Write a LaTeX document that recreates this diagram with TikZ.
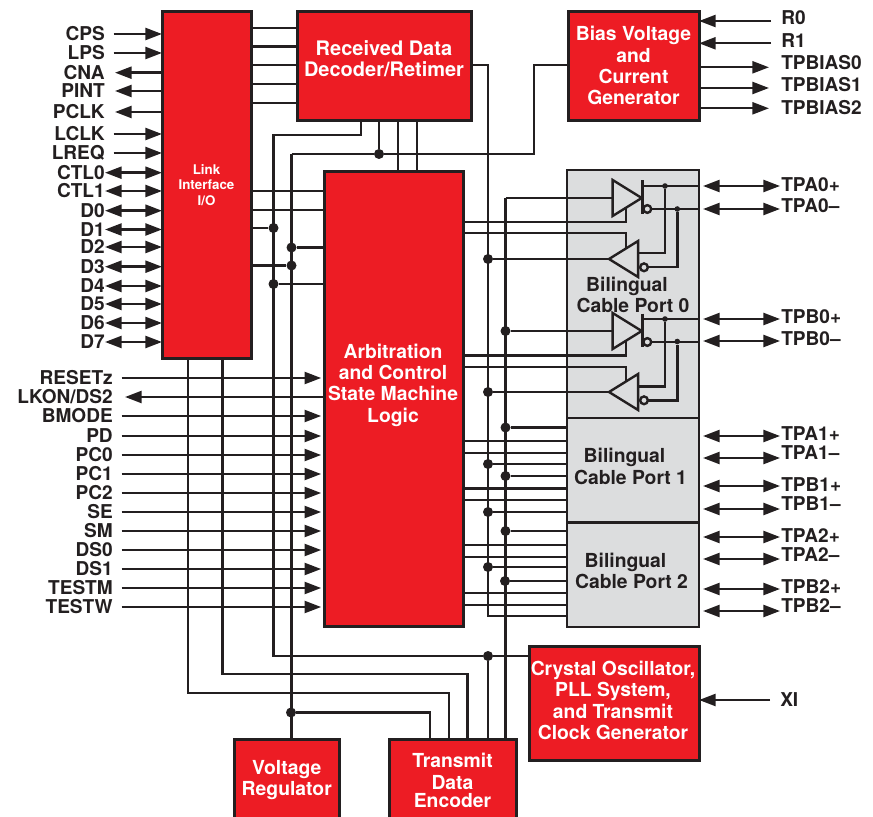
\documentclass[tikz,border=0pt]{standalone}
\usepackage{fontspec}
\usepackage{xcolor}
\usepackage{tikz}
\usetikzlibrary{arrows.meta, shapes.geometric}
\setmainfont{TeX Gyre Heros}
\definecolor{chipred}{HTML}{ED1C24}
\definecolor{chipink}{HTML}{231F20}
\definecolor{chipgray}{HTML}{DCDDDE}
\tikzset{
    block/.style={draw=chipink, fill=chipred, line width=2.25pt, inner sep=0pt, outer sep=0pt, text=white, align=center, font=\fontsize{14.5}{16}\selectfont\bfseries},
    blocktxt/.style={inner sep=0pt, text=white, align=center, font=\fontsize{14.5}{16}\selectfont\bfseries},
    portbox/.style={draw=chipink, fill=chipgray, line width=2pt, inner sep=0pt, outer sep=0pt},
    porttxt/.style={inner sep=0pt, text=chipink, align=center, font=\fontsize{14.5}{16}\selectfont\bfseries},
    pinleft/.style={anchor=east, inner sep=0pt, text=chipink, text height=10pt, text depth=0pt, font=\fontsize{14.3}{16}\selectfont\bfseries},
    pinright/.style={anchor=west, inner sep=0pt, text=chipink, text height=10pt, text depth=0pt, font=\fontsize{14.3}{16}\selectfont\bfseries},
    wire/.style={draw=chipink, line width=1.8pt},
    inwire/.style={wire, -{Triangle[length=12.5pt, width=9pt]}, shorten <=6.5pt},
    outwire/.style={wire, -{Triangle[length=12.5pt, width=9pt]}, shorten >=7.5pt},
    biwire/.style={wire, {Triangle[length=12.5pt, width=9pt]}-{Triangle[length=12.5pt, width=9pt]}},
    dot/.style={circle, fill=chipink, inner sep=0pt, minimum size=7.5pt},
    tinydot/.style={circle, fill=chipink, inner sep=0pt, minimum size=4.2pt},
    bubble/.style={circle, draw=chipink, fill=chipgray, line width=1.8pt, inner sep=0pt, outer sep=0pt, minimum size=5.8pt},
    bufright/.style={isosceles triangle, isosceles triangle stretches, shape border rotate=0, draw=chipink, fill=chipgray, line width=1.8pt, inner sep=0pt, outer sep=0pt, minimum width=27pt, minimum height=21.8pt, anchor=apex},
    bufleft/.style={bufright, shape border rotate=180}
}
\begin{document}
\begin{tikzpicture}[x=0.75pt, y=-0.75pt]
    \useasboundingbox (0,0) rectangle (873,816);

    % blocks
    \node[block, minimum width=66.75pt, minimum height=260.25pt, font=\fontsize{10}{11.6}\selectfont\bfseries] (link) at (206.5,185) {Link\\Interface\\I/O};
    \node[block, minimum width=130.5pt, minimum height=81.4pt] (decoder) at (384,65.75) {};
    \node[block, minimum width=98.25pt, minimum height=81.4pt] (bias) at (633.5,65.75) {Bias Voltage\\and\\Current\\Generator};
    \node[block, minimum width=104.6pt, minimum height=341.6pt] (arb) at (394.25,398.75) {};
    \node[block, minimum width=127.5pt, minimum height=85.5pt] (crystal) at (614,703) {};
    \node[block, minimum width=78.4pt, minimum height=61.5pt] (vreg) at (286.75,780) {Voltage\\Regulator};
    \node[block, minimum width=95.25pt, minimum height=61.5pt] (tx) at (452.5,780) {Transmit\\[1pt]Data\\[-3pt]Encoder};
    \node[portbox, minimum width=99pt, minimum height=186pt] (port0) at (633,294) {};
    \node[portbox, minimum width=99pt, minimum height=78.4pt] (port1) at (633,470.25) {};
    \node[portbox, minimum width=99pt, minimum height=78.4pt] (port2) at (633,574.75) {};
    \node[blocktxt, font=\fontsize{15}{16}\selectfont\bfseries] (decodertxt) at (384,58.5) {Received Data\\Decoder/Retimer};
    \node[blocktxt] (arbtxt) at (393,385) {Arbitration\\and Control\\State Machine\\Logic};
    \node[blocktxt] (crystaltxt) at (613,700.5) {Crystal Oscillator,\\PLL System,\\and Transmit\\Clock Generator};
    \node[porttxt] (port0txt) at (633,295) {Bilingual\kern 9pt\\Cable Port 0};
    \node[porttxt] (port1txt) at (630.5,466.5) {Bilingual\kern 9pt\\Cable Port 1};
    \node[porttxt] (port2txt) at (631.5,571) {Bilingual\kern 9pt\\Cable Port 2};

    % link side pins
    \node[pinleft] (cps) at (105,34) {CPS};
    \node[pinleft] (lps) at (105,53) {LPS};
    \node[pinleft] (cna) at (105,72.7) {CNA};
    \node[pinleft] (pint) at (105,91) {PINT};
    \node[pinleft] (pclk) at (105,112) {PCLK};
    \node[pinleft] (lclk) at (105,134) {LCLK};
    \node[pinleft] (lreq) at (105,153) {LREQ};
    \node[pinleft] (ctl0) at (105,172.7) {CTL0};
    \node[pinleft] (ctl1) at (105,191) {CTL1};
    \node[pinleft] (d0) at (105,210.7) {D0};
    \node[pinleft] (d1) at (105,229.5) {D1};
    \node[pinleft] (d2) at (105,247) {D2};
    \node[pinleft] (d3) at (105,266.7) {D3};
    \node[pinleft] (d4) at (105,286) {D4};
    \node[pinleft] (d5) at (105,304) {D5};
    \node[pinleft] (d6) at (105,323) {D6};
    \node[pinleft] (d7) at (105,342) {D7};

    \draw[inwire] (cps.east) -- (link.west |- cps);
    \draw[inwire] (lps.east) -- (link.west |- lps);
    \draw[outwire] (link.west |- cna) -- (cna.east);
    \draw[outwire] (link.west |- pint) -- (pint.east);
    \draw[outwire] (link.west |- pclk) -- (pclk.east);
    \draw[inwire] (lclk.east) -- (link.west |- lclk);
    \draw[inwire] (lreq.east) -- (link.west |- lreq);
    \draw[biwire] (ctl0.east) -- (link.west |- ctl0);
    \draw[biwire] (ctl1.east) -- (link.west |- ctl1);
    \draw[biwire] (d0.east) -- (link.west |- d0);
    \draw[biwire] (d1.east) -- (link.west |- d1);
    \draw[biwire] (d2.east) -- (link.west |- d2);
    \draw[biwire] (d3.east) -- (link.west |- d3);
    \draw[biwire] (d4.east) -- (link.west |- d4);
    \draw[biwire] (d5.east) -- (link.west |- d5);
    \draw[biwire] (d6.east) -- (link.west |- d6);
    \draw[biwire] (d7.east) -- (link.west |- d7);

    % control pins
    \node[pinleft] (resetz) at (113,378) {RESETz};
    \node[pinleft] (lkon) at (113,397) {LKON/DS2};
    \node[pinleft] (bmode) at (113,416) {BMODE};
    \node[pinleft] (pd) at (113,436) {PD};
    \node[pinleft] (pc0) at (113,455) {PC0};
    \node[pinleft] (pc1) at (113,474) {PC1};
    \node[pinleft] (pc2) at (113,493) {PC2};
    \node[pinleft] (se) at (113,512) {SE};
    \node[pinleft] (sm) at (113,531) {SM};
    \node[pinleft] (ds0) at (113,550) {DS0};
    \node[pinleft] (ds1) at (113,569) {DS1};
    \node[pinleft] (testm) at (113,588) {TESTM};
    \node[pinleft] (testw) at (113,607) {TESTW};

    \draw[inwire, shorten >=2.5pt] (resetz.east) -- (arb.west |- resetz);
    \draw[outwire, shorten >=9pt] (arb.west |- lkon) -- (lkon.east);
    \draw[inwire, shorten >=2.5pt] (bmode.east) -- (arb.west |- bmode);
    \draw[inwire, shorten >=2.5pt] (pd.east) -- (arb.west |- pd);
    \draw[inwire, shorten >=2.5pt] (pc0.east) -- (arb.west |- pc0);
    \draw[inwire, shorten >=2.5pt] (pc1.east) -- (arb.west |- pc1);
    \draw[inwire, shorten >=2.5pt] (pc2.east) -- (arb.west |- pc2);
    \draw[inwire, shorten >=2.5pt] (se.east) -- (arb.west |- se);
    \draw[inwire, shorten >=2.5pt] (sm.east) -- (arb.west |- sm);
    \draw[inwire, shorten >=2.5pt] (ds0.east) -- (arb.west |- ds0);
    \draw[inwire, shorten >=2.5pt] (ds1.east) -- (arb.west |- ds1);
    \draw[inwire, shorten >=2.5pt] (testm.east) -- (arb.west |- testm);
    \draw[inwire, shorten >=2.5pt] (testw.east) -- (arb.west |- testw);

    % bias pins
    \node[pinright] (r0) at (781,18) {R0};
    \node[pinright] (r1) at (781,41) {R1};
    \node[pinright] (tpbias0) at (781,63) {TPBIAS0};
    \node[pinright] (tpbias1) at (781,85) {TPBIAS1};
    \node[pinright] (tpbias2) at (781,108) {TPBIAS2};
    \node[pinright] (xi) at (780,700) {XI};
    \coordinate (r0end) at (771,21);
    \coordinate (r1end) at (771,43.3);
    \coordinate (bias0end) at (769,67.3);
    \coordinate (bias1end) at (769,88);
    \coordinate (bias2end) at (769,108.3);
    \coordinate (xiend) at (770,700);

    \draw[wire, -{Triangle[length=12.5pt, width=9pt]}] (r0end) -- (bias.east |- r0end);
    \draw[wire, -{Triangle[length=12.5pt, width=9pt]}] (r1end) -- (bias.east |- r1end);
    \draw[wire, -{Triangle[length=12.5pt, width=9pt]}] (bias.east |- bias0end) -- (bias0end);
    \draw[wire, -{Triangle[length=12.5pt, width=9pt]}] (bias.east |- bias1end) -- (bias1end);
    \draw[wire, -{Triangle[length=12.5pt, width=9pt]}] (bias.east |- bias2end) -- (bias2end);
    \draw[wire, -{Triangle[length=12.5pt, width=9pt]}] (xiend) -- (crystal.east |- xiend);

    % cable pins
    \node[pinright] (tpa0p) at (781,185) {TPA0+};
    \node[pinright] (tpa0m) at (781,206) {TPA0–};
    \node[pinright] (tpb0p) at (781,317) {TPB0+};
    \node[pinright] (tpb0m) at (781,339) {TPB0–};
    \node[pinright] (tpa1p) at (781,434) {TPA1+};
    \node[pinright] (tpa1m) at (781,453) {TPA1–};
    \node[pinright] (tpb1p) at (781,485) {TPB1+};
    \node[pinright] (tpb1m) at (781,504) {TPB1–};
    \node[pinright] (tpa2p) at (781,536) {TPA2+};
    \node[pinright] (tpa2m) at (781,555) {TPA2–};
    \node[pinright] (tpb2p) at (781,587) {TPB2+};
    \node[pinright] (tpb2m) at (781,606) {TPB2–};
    \coordinate (tpa0pend) at (780,186);
    \coordinate (tpa0mend) at (780,209);
    \coordinate (tpb0pend) at (780,319);
    \coordinate (tpb0mend) at (780,341);
    \coordinate (tpa1pend) at (780,436);
    \coordinate (tpa1mend) at (780,458);
    \coordinate (tpb1pend) at (780,486);
    \coordinate (tpb1mend) at (780,509);
    \coordinate (tpa2pend) at (780,537);
    \coordinate (tpa2mend) at (780,559);
    \coordinate (tpb2pend) at (780,589);
    \coordinate (tpb2mend) at (780,611);

    \draw[biwire, shorten <=3pt] (port0.east |- tpa0pend) -- (tpa0pend);
    \draw[biwire, shorten <=3pt] (port0.east |- tpa0mend) -- (tpa0mend);
    \draw[biwire, shorten <=3pt] (port0.east |- tpb0pend) -- (tpb0pend);
    \draw[biwire, shorten <=3pt] (port0.east |- tpb0mend) -- (tpb0mend);
    \draw[biwire, shorten <=3pt] (port1.east |- tpa1pend) -- (tpa1pend);
    \draw[biwire, shorten <=3pt] (port1.east |- tpa1mend) -- (tpa1mend);
    \draw[biwire, shorten <=3pt] (port1.east |- tpb1pend) -- (tpb1pend);
    \draw[biwire, shorten <=3pt] (port1.east |- tpb1mend) -- (tpb1mend);
    \draw[biwire, shorten <=3pt] (port2.east |- tpa2pend) -- (tpa2pend);
    \draw[biwire, shorten <=3pt] (port2.east |- tpa2mend) -- (tpa2mend);
    \draw[biwire, shorten <=3pt] (port2.east |- tpb2pend) -- (tpb2pend);
    \draw[biwire, shorten <=3pt] (port2.east |- tpb2mend) -- (tpb2mend);

    % junctions
    \node[dot] (dotd1) at (273.5,228) {};
    \node[dot] (dotd2) at (291.5,247.5) {};
    \node[dot] (dotd3) at (291.5,265.5) {};
    \node[dot] (dotd4) at (273.5,284) {};
    \node[dot] (dotbias) at (379,154) {};
    \node[dot] (dotclk) at (488,656) {};
    \node[dot] (dotvreg) at (291,712.5) {};
    \node[dot] (dotrx0) at (488,259) {};
    \node[dot] (dotrx1) at (488,392) {};
    \node[dot] (dotrx2) at (488,464) {};
    \node[dot] (dotrx3) at (488,512) {};
    \node[dot] (dotrx4) at (488,567) {};
    \node[dot] (dottx1) at (505.5,331) {};
    \node[dot] (dottx2) at (505.5,427.5) {};
    \node[dot] (dottx3) at (505.5,476) {};
    \node[dot] (dottx4) at (505.5,531) {};
    \node[dot] (dottx5) at (505,581) {};

    % link to decoder and arbiter
    \coordinate (decin1) at (297,28);
    \coordinate (decin2) at (297,46.5);
    \coordinate (decin3) at (297,65);
    \coordinate (decin4) at (297,84);
    \coordinate (decin5) at (297,103);
    \coordinate (arbin1) at (324.5,191);
    \coordinate (arbin2) at (324.5,210);
    \draw[wire] (link.east |- decin1) -- (decin1);
    \draw[wire] (link.east |- decin2) -- (decin2);
    \draw[wire] (link.east |- decin3) -- (decin3);
    \draw[wire] (link.east |- decin4) -- (decin4);
    \draw[wire] (link.east |- decin5) -- (decin5);
    \draw[wire] (link.east |- arbin1) -- (arbin1);
    \draw[wire] (link.east |- arbin2) -- (arbin2);
    \draw[wire] (link.east |- dotd1) -- (dotd1);
    \draw[wire] (link.east |- dotd3) -- (dotd3);
    \draw[wire] (dotd2) -- (arb.west |- dotd2);
    \draw[wire] (dotd4) -- (arb.west |- dotd4);

    % decoder buses
    \coordinate (decout1) at (361,120);
    \coordinate (decout2) at (379,120);
    \coordinate (decout3) at (398,120);
    \coordinate (decout4) at (416.7,120);
    \coordinate (decout5) at (471,65);
    \coordinate (clkbend) at (273.5,135);
    \coordinate (pwrbend) at (291.5,154);
    \coordinate (biasbend) at (534,65);
    \coordinate (rxbend) at (488,616);
    \draw[wire] (decout1) |- (clkbend) |- (dotclk) -- (crystal.west |- dotclk);
    \draw[wire] (decout2) -- (dotbias);
    \draw[wire] (decout3) -- (decout3 |- arb.north);
    \draw[wire] (decout4) -- (decout4 |- arb.north);
    \draw[wire] (pwrbend) -- (dotbias) -| (biasbend) -- (bias.west |- biasbend);
    \draw[wire] (pwrbend) -- (pwrbend |- vreg.north);
    \draw[wire] (decout5) -| (rxbend) -- (port2.west |- rxbend);

    % link to transmit encoder
    \coordinate (linkout1) at (188,358.5);
    \coordinate (linkout2) at (222.5,358.5);
    \coordinate (txbend1) at (188,693);
    \coordinate (txbend2) at (222.5,674);
    \coordinate (txin1) at (430,739);
    \coordinate (txin2) at (449,739);
    \coordinate (txin3) at (467.5,739);
    \draw[wire] (linkout1) -- (txbend1) -| (txin2);
    \draw[wire] (linkout2) -- (txbend2) -| (txin3);
    \draw[wire] (dotvreg) -| (txin1);
    \draw[wire] (dotclk) -- (dotclk |- tx.north);

    % arbiter to cable ports
    \coordinate (arbout1) at (464,222.3);
    \coordinate (arbout2) at (464,233.3);
    \coordinate (arbout3) at (464,355.3);
    \coordinate (arbout4) at (464,366.7);
    \coordinate (enable1) at (625.7,208);
    \coordinate (enable2) at (625.7,250);
    \coordinate (enable3) at (625.7,341);
    \coordinate (enable4) at (625.7,383);
    \coordinate (arbout5) at (464,440.7);
    \coordinate (arbout6) at (464,452.7);
    \coordinate (arbout7) at (464,488.3);
    \coordinate (arbout8) at (464,500);
    \coordinate (arbout9) at (464,545);
    \coordinate (arbout10) at (464,556.7);
    \coordinate (arbout11) at (464,593);
    \coordinate (arbout12) at (464,605);
    \draw[wire] (arbout1) -| (enable1);
    \draw[wire] (arbout2) -| (enable2);
    \draw[wire] (arbout3) -| (enable3);
    \draw[wire] (arbout4) -| (enable4);
    \draw[wire] (arbout5) -- (port1.west |- arbout5);
    \draw[wire] (arbout6) -- (port1.west |- arbout6);
    \draw[wire] (arbout7) -- (port1.west |- arbout7);
    \draw[wire] (arbout8) -- (port1.west |- arbout8);
    \draw[wire] (arbout9) -- (port2.west |- arbout9);
    \draw[wire] (arbout10) -- (port2.west |- arbout10);
    \draw[wire] (arbout11) -- (port2.west |- arbout11);
    \draw[wire] (arbout12) -- (port2.west |- arbout12);

    % line drivers and receivers
    \node[bufright] (drva0) at (641.7,198) {};
    \node[bufleft] (rcva0) at (609,259) {};
    \node[bufright] (drvb0) at (641.7,331) {};
    \node[bufleft] (rcvb0) at (609,392) {};
    \node[bubble] (bubdrva0) at (647.3,209) {};
    \node[bubble] (bubrcva0) at (644,267.3) {};
    \node[bubble] (bubdrvb0) at (647.3,342) {};
    \node[bubble] (bubrcvb0) at (644,400.3) {};
    \node[tinydot] (dotapos) at (665,186) {};
    \node[tinydot] (dotaneg) at (677.3,209) {};
    \node[tinydot] (dotbpos) at (665,319) {};
    \node[tinydot] (dotbneg) at (677.3,341.5) {};
    \coordinate (rcvpina) at (639,253.3);
    \coordinate (rcvpinb) at (639,386.3);
    \coordinate (txbend) at (505.5,198);
    \coordinate (barat) at (642.3,180.5);
    \coordinate (barab) at (642.3,214);
    \coordinate (barbt) at (642.3,313.5);
    \coordinate (barbb) at (642.3,347);

    \draw[wire] (txbend) -- (drva0.west);
    \draw[wire] (txbend) -- (txbend |- tx.north);
    \draw[wire] (dottx1) -- (drvb0.west);
    \draw[wire] (dotrx0) -- (rcva0.apex);
    \draw[wire] (dotrx1) -- (rcvb0.apex);
    \draw[wire] (dottx2) -- (port1.west |- dottx2);
    \draw[wire] (dotrx2) -- (port1.west |- dotrx2);
    \draw[wire] (dottx3) -- (port1.west |- dottx3);
    \draw[wire] (dotrx3) -- (port1.west |- dotrx3);
    \draw[wire] (dottx4) -- (port2.west |- dottx4);
    \draw[wire] (dotrx4) -- (port2.west |- dotrx4);
    \draw[wire] (dottx5) -- (port2.west |- dottx5);
    \draw[wire] (barat) -- (barab);
    \draw[wire] (barbt) -- (barbb);
    \draw[wire] (barat |- dotapos) -- (port0.east |- dotapos);
    \draw[wire] (bubdrva0) -- (port0.east |- bubdrva0);
    \draw[wire] (barbt |- dotbpos) -- (port0.east |- dotbpos);
    \draw[wire] (bubdrvb0) -- (port0.east |- bubdrvb0);
    \draw[wire] (rcvpina) -| (dotapos);
    \draw[wire] (bubrcva0) -| (dotaneg);
    \draw[wire] (rcvpinb) -| (dotbpos);
    \draw[wire] (bubrcvb0) -| (dotbneg);
\end{tikzpicture}
\end{document}
